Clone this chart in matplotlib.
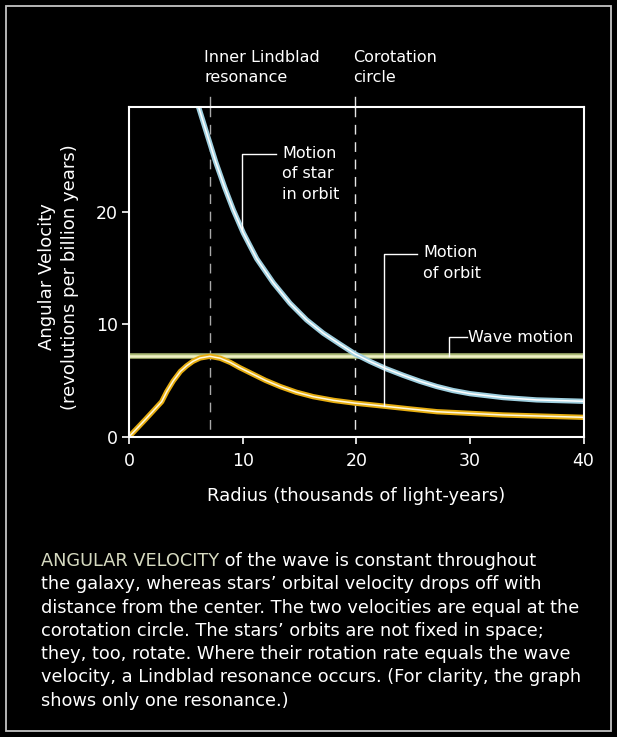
import numpy as np
import matplotlib.pyplot as plt
from matplotlib.patches import Rectangle

# --- данные ---
# радиус (тысячи световых лет) и угловая скорость звезды
star_r = [6.0, 6.8, 7.6, 8.4, 9.16, 10.04, 11.22, 12.68, 14.15, 15.62, 17.08,
          18.56, 19.88, 21.2, 22.6, 24.13, 25.6, 27.07, 28.5, 30.0, 32.94,
          35.88, 40.0]
star_w = [29.7, 27.1, 24.5, 22.2, 20.2, 18.15, 15.85, 13.7, 11.88, 10.39, 9.21,
          8.22, 7.36, 6.69, 6.05, 5.45, 4.92, 4.46, 4.1, 3.82, 3.47,
          3.26, 3.14]
# угловая скорость орбиты
orbit_r = [0, 1.4, 2.85, 3.3, 3.87, 4.5, 5.05, 5.6, 6.23, 7.1, 8.0, 8.9,
           9.7, 10.5, 12.0, 13.3, 14.7, 16.2, 18.0, 19.9, 22.1, 24.5,
           27.1, 32.9, 40.0]
orbit_w = [0, 1.5, 3.1, 4.0, 4.95, 5.8, 6.3, 6.7, 7.0, 7.15, 6.98, 6.6,
           6.15, 5.75, 5.0, 4.45, 3.95, 3.55, 3.22, 2.97, 2.74, 2.48,
           2.21, 1.92, 1.71]
wave_w = 7.21            # скорость волны
ilr_r = 7.1              # внутренний резонанс Линдблада
corot_r = 19.9           # окружность коротации

x_ticks = [0, 10, 20, 30, 40]
y_ticks = [0, 10, 20]

caption_head = "ANGULAR VELOCITY"
caption_lines = [
    " of the wave is constant throughout",
    "the galaxy, whereas stars\u2019 orbital velocity drops off with",
    "distance from the center. The two velocities are equal at the",
    "corotation circle. The stars\u2019 orbits are not fixed in space;",
    "they, too, rotate. Where their rotation rate equals the wave",
    "velocity, a Lindblad resonance occurs. (For clarity, the graph",
    "shows only one resonance.)",
]

W, H = 617, 737
plt.rcParams['font.family'] = ['DejaVu Sans']


def fx(x):
    return x / W


def fy(y):
    return 1 - y / H


fig = plt.figure(figsize=(W / 100, H / 100), dpi=100, facecolor='black')

# рамка вокруг всего рисунка
fig.patches.append(Rectangle((fx(6), fy(731)), fx(605), (725) / H,
                             transform=fig.transFigure, fill=False,
                             edgecolor='#c4c4c4', linewidth=1.3))

ax = fig.add_axes([fx(129.3), fy(436.5), (583.5 - 129.3) / W, (436.5 - 106.7) / H])
ax.set_facecolor('black')
ax.set_xlim(0, 40)
ax.set_ylim(0, 29.4)

# пунктирные линии резонанса и коротации
ax.plot([ilr_r, ilr_r], [29.4, 0], color='#a9a9a9', lw=1.0, dashes=(7, 5.5))
ax.plot([corot_r, corot_r], [29.4, 0], color='#e6e6e6', lw=1.0, dashes=(7, 5.5))
ax.axvline(ilr_r, ymin=1, ymax=1.03, color='#a9a9a9', lw=1.0, clip_on=False)
ax.axvline(corot_r, ymin=1, ymax=1.03, color='#e6e6e6', lw=1.0, clip_on=False)

# волна
ax.axhline(wave_w, color='#a9b874', lw=4.0)
ax.axhline(wave_w, color='#eef0c4', lw=1.8)
# орбита
ax.plot(orbit_r, orbit_w, color='#e6ad10', lw=3.8, solid_joinstyle='round')
ax.plot(orbit_r, orbit_w, color='#fff8dc', lw=1.1, solid_joinstyle='round')
# звезда
ax.plot(star_r, star_w, color='#9fcfdf', lw=3.8, solid_joinstyle='round')
ax.plot(star_r, star_w, color='#ffffff', lw=1.1, solid_joinstyle='round')

# выноски
lab = dict(color='white', fontsize=11.5, linespacing=1.45)
x0 = 9.95
y0 = np.interp(x0, star_r, star_w)
ax.plot([x0, x0, 12.92], [y0, 25.17, 25.17], color='white', lw=1.0)
ax.text(13.47, 25.17 + 0.75, "Motion\nof star\nin orbit", va='top', **lab)

x1 = 22.43
y1 = np.interp(x1, orbit_r, orbit_w)
ax.plot([x1, x1, 25.34], [y1, 16.28, 16.28], color='white', lw=1.0)
ax.text(25.86, 16.28 + 0.75, "Motion\nof orbit", va='top', **lab)

x2 = 28.15
ax.plot([x2, x2, 29.71], [wave_w, 8.85, 8.85], color='white', lw=1.0)
ax.text(29.85, 8.85, "Wave motion", va='center', **lab)

# оси
for s in ax.spines.values():
    s.set_color('white')
    s.set_linewidth(1.5)
ax.set_xticks(x_ticks)
ax.set_yticks(y_ticks)
ax.tick_params(colors='white', labelcolor='white', direction='out',
               length=5, width=1.2, labelsize=12.5)
ax.tick_params(axis='x', pad=6)
ax.tick_params(axis='y', pad=3)

fig.text(fx(58.5), fy(277), "Angular Velocity\n(revolutions per billion years)",
         rotation=90, ha='center', va='center', color='white', fontsize=13,
         multialignment='center', linespacing=1.35)
fig.text(fx(356.4), fy(496), "Radius (thousands of light-years)",
         ha='center', va='center', color='white', fontsize=13)

fig.text(fx(204), fy(50), "Inner Lindblad\nresonance", ha='left', va='top',
         color='white', fontsize=11.5, linespacing=1.4)
fig.text(fx(353), fy(50), "Corotation\ncircle", ha='left', va='top',
         color='white', fontsize=11.5, linespacing=1.4)

# подпись под графиком
fs = 12.8
fig.canvas.draw()
r = fig.canvas.get_renderer()
head = fig.text(fx(40.7), fy(566), caption_head, color='#d6dac0',
                fontsize=fs, va='baseline')
w_head = head.get_window_extent(r).width
fig.text(fx(40.7 + w_head), fy(566), caption_lines[0], color='white',
         fontsize=fs, va='baseline')
for i, line in enumerate(caption_lines[1:], start=1):
    fig.text(fx(40.7), fy(566 + i * 23.3), line, color='white',
             fontsize=fs, va='baseline')

fig.savefig('out.png', dpi=100, facecolor='black')
